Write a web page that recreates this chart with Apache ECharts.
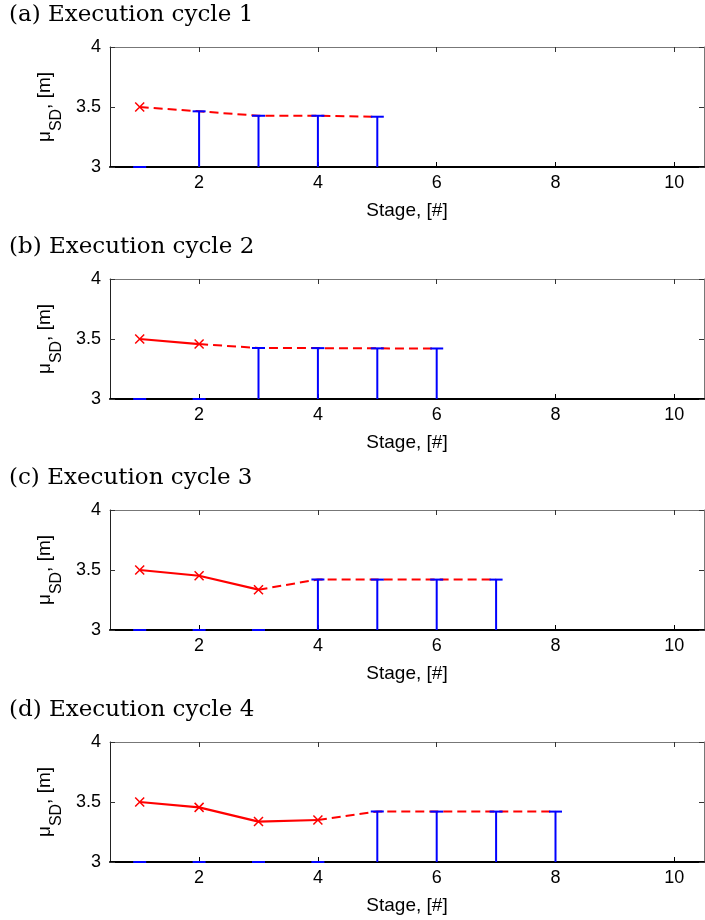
<!DOCTYPE html>
<html>
<head>
<meta charset="utf-8">
<script src="https://cdn.jsdelivr.net/npm/echarts@6/dist/echarts.min.js"></script>
<style>
html,body{margin:0;padding:0;background:#fff;}
#chart{width:705px;height:920px;}
</style>
</head>
<body>
<div id="chart"></div>
<script>
// ---- data ----
const panelTitles = ['(a) Execution cycle 1', '(b) Execution cycle 2', '(c) Execution cycle 3', '(d) Execution cycle 4'];
const xTickValues = [2, 4, 6, 8, 10];
const yTickValues = [3, 3.5, 4];
// realized mu_SD (solid line, x markers) for stages 1..k
const cycle1Realized = [3.50];
const cycle2Realized = [3.50, 3.458];
const cycle3Realized = [3.50, 3.452, 3.336];
const cycle4Realized = [3.50, 3.455, 3.337, 3.350];
// predicted mu_SD (dashed line, blue stems) for stages k+1..k+4
const cycle1Predicted = [3.464, 3.427, 3.427, 3.419];
const cycle2Predicted = [3.425, 3.424, 3.422, 3.421];
const cycle3Predicted = [3.421, 3.420, 3.420, 3.420];
const cycle4Predicted = [3.421, 3.420, 3.420, 3.420];

const realizedAll = [cycle1Realized, cycle2Realized, cycle3Realized, cycle4Realized];
const predictedAll = [cycle1Predicted, cycle2Predicted, cycle3Predicted, cycle4Predicted];

// ---- layout ----
const SANS = 'Liberation Sans, Arial, Helvetica, sans-serif';
const gridTops = [47, 279, 510, 742];
const gridH = 120;
const baseline = yTickValues[0];

const chart = echarts.init(document.getElementById('chart'), null, {renderer: 'canvas'});

const grids = [], xAxes = [], yAxes = [], series = [], titles = [];

gridTops.forEach((top, g) => {
  grids.push({left: 110, width: 594, top: top, height: gridH, show: true, backgroundColor: '#fff', borderWidth: 0});
  titles.push({
    text: panelTitles[g], left: 9, top: top - 43, padding: 0,
    textStyle: {fontFamily: 'DejaVu Serif', fontSize: 23, fontWeight: 'normal', color: '#000'}
  });
  // bottom x axis
  xAxes.push({
    gridIndex: g, type: 'value', min: 0.5, max: 10.5, position: 'bottom',
    name: 'Stage, [#]', nameLocation: 'middle', nameGap: 34,
    nameTextStyle: {fontFamily: SANS, fontSize: 19, color: '#000'},
    axisLine: {show: true, onZero: false, lineStyle: {color: '#000', width: 2}},
    axisTick: {show: true, inside: true, length: 5, customValues: xTickValues, lineStyle: {color: '#000', width: 1}},
    axisLabel: {show: true, customValues: xTickValues, fontFamily: SANS, fontSize: 18, color: '#000', margin: 7},
    splitLine: {show: false}
  });
  // top x axis (box)
  xAxes.push({
    gridIndex: g, type: 'value', min: 0.5, max: 10.5, position: 'top',
    axisLine: {show: true, onZero: false, lineStyle: {color: '#777', width: 1}},
    axisTick: {show: true, inside: true, length: 5, customValues: xTickValues, lineStyle: {color: '#333', width: 1}},
    axisLabel: {show: false},
    splitLine: {show: false}
  });
  // left y axis
  yAxes.push({
    gridIndex: g, type: 'value', min: 3, max: 4, interval: 0.5, position: 'left',
    name: '{mu|μ}{sub|SD}{n|, [m]}', nameLocation: 'middle', nameGap: 43, nameRotate: 90,
    nameTextStyle: {
      color: '#000',
      rich: {
        mu: {fontFamily: SANS, fontSize: 19, color: '#000', lineHeight: 20, verticalAlign: 'top'},
        sub: {fontFamily: SANS, fontSize: 16, color: '#000', lineHeight: 30, verticalAlign: 'bottom'},
        n: {fontFamily: SANS, fontSize: 19, color: '#000', lineHeight: 20, verticalAlign: 'top'}
      }
    },
    axisLine: {show: true, onZero: false, lineStyle: {color: '#222', width: 1}},
    axisTick: {show: true, inside: true, length: 5, lineStyle: {color: '#333', width: 1}},
    axisLabel: {show: true, fontFamily: SANS, fontSize: 18, color: '#000', margin: 9},
    splitLine: {show: false}
  });
  // right y axis (box)
  yAxes.push({
    gridIndex: g, type: 'value', min: 3, max: 4, interval: 0.5, position: 'right',
    axisLine: {show: true, onZero: false, lineStyle: {color: '#777', width: 1}},
    axisTick: {show: true, inside: true, length: 5, lineStyle: {color: '#333', width: 1}},
    axisLabel: {show: false},
    splitLine: {show: false}
  });

  const realized = realizedAll[g];
  const predicted = predictedAll[g];
  const k = realized.length;
  const realizedData = realized.map((v, i) => [i + 1, v]);
  const predictedData = [[k, realized[k - 1]]].concat(predicted.map((v, i) => [k + 1 + i, v]));
  const stemData = realized.map((v, i) => [i + 1, baseline]).concat(predicted.map((v, i) => [k + 1 + i, v]));

  const xi = g * 2, yi = g * 2;

  series.push({
    type: 'line', xAxisIndex: xi, yAxisIndex: yi, data: predictedData,
    showSymbol: false, symbol: 'none',
    lineStyle: {color: '#ff0000', width: 2, type: [9, 5]},
    z: 3, silent: true
  });
  series.push({
    type: 'custom', xAxisIndex: xi, yAxisIndex: yi, data: stemData, z: 4, silent: true,
    renderItem: function (params, api) {
      const x = api.value(0), v = api.value(1);
      const p = api.coord([x, v]);
      const b = api.coord([x, baseline]);
      const style = {stroke: '#0000ff', lineWidth: 2, fill: null};
      const children = [];
      if (Math.abs(b[1] - p[1]) > 0.5) {
        children.push({type: 'line', shape: {x1: p[0], y1: b[1], x2: p[0], y2: p[1]}, style: style});
      }
      children.push({type: 'line', shape: {x1: p[0] - 6.5, y1: p[1], x2: p[0] + 6.5, y2: p[1]}, style: style});
      return {type: 'group', children: children};
    }
  });
  series.push({
    type: 'line', xAxisIndex: xi, yAxisIndex: yi, data: realizedData,
    symbol: 'path://M0,0L10,10M10,0L0,10', symbolSize: 9, showSymbol: true,
    itemStyle: {color: '#ff0000', borderColor: '#ff0000', borderWidth: 1.5},
    lineStyle: {color: '#ff0000', width: 2.2, type: 'solid'},
    z: 5, silent: true
  });
});

chart.setOption({
  animation: false,
  backgroundColor: '#fff',
  title: titles,
  grid: grids,
  xAxis: xAxes,
  yAxis: yAxes,
  series: series
});
</script>
</body>
</html>
